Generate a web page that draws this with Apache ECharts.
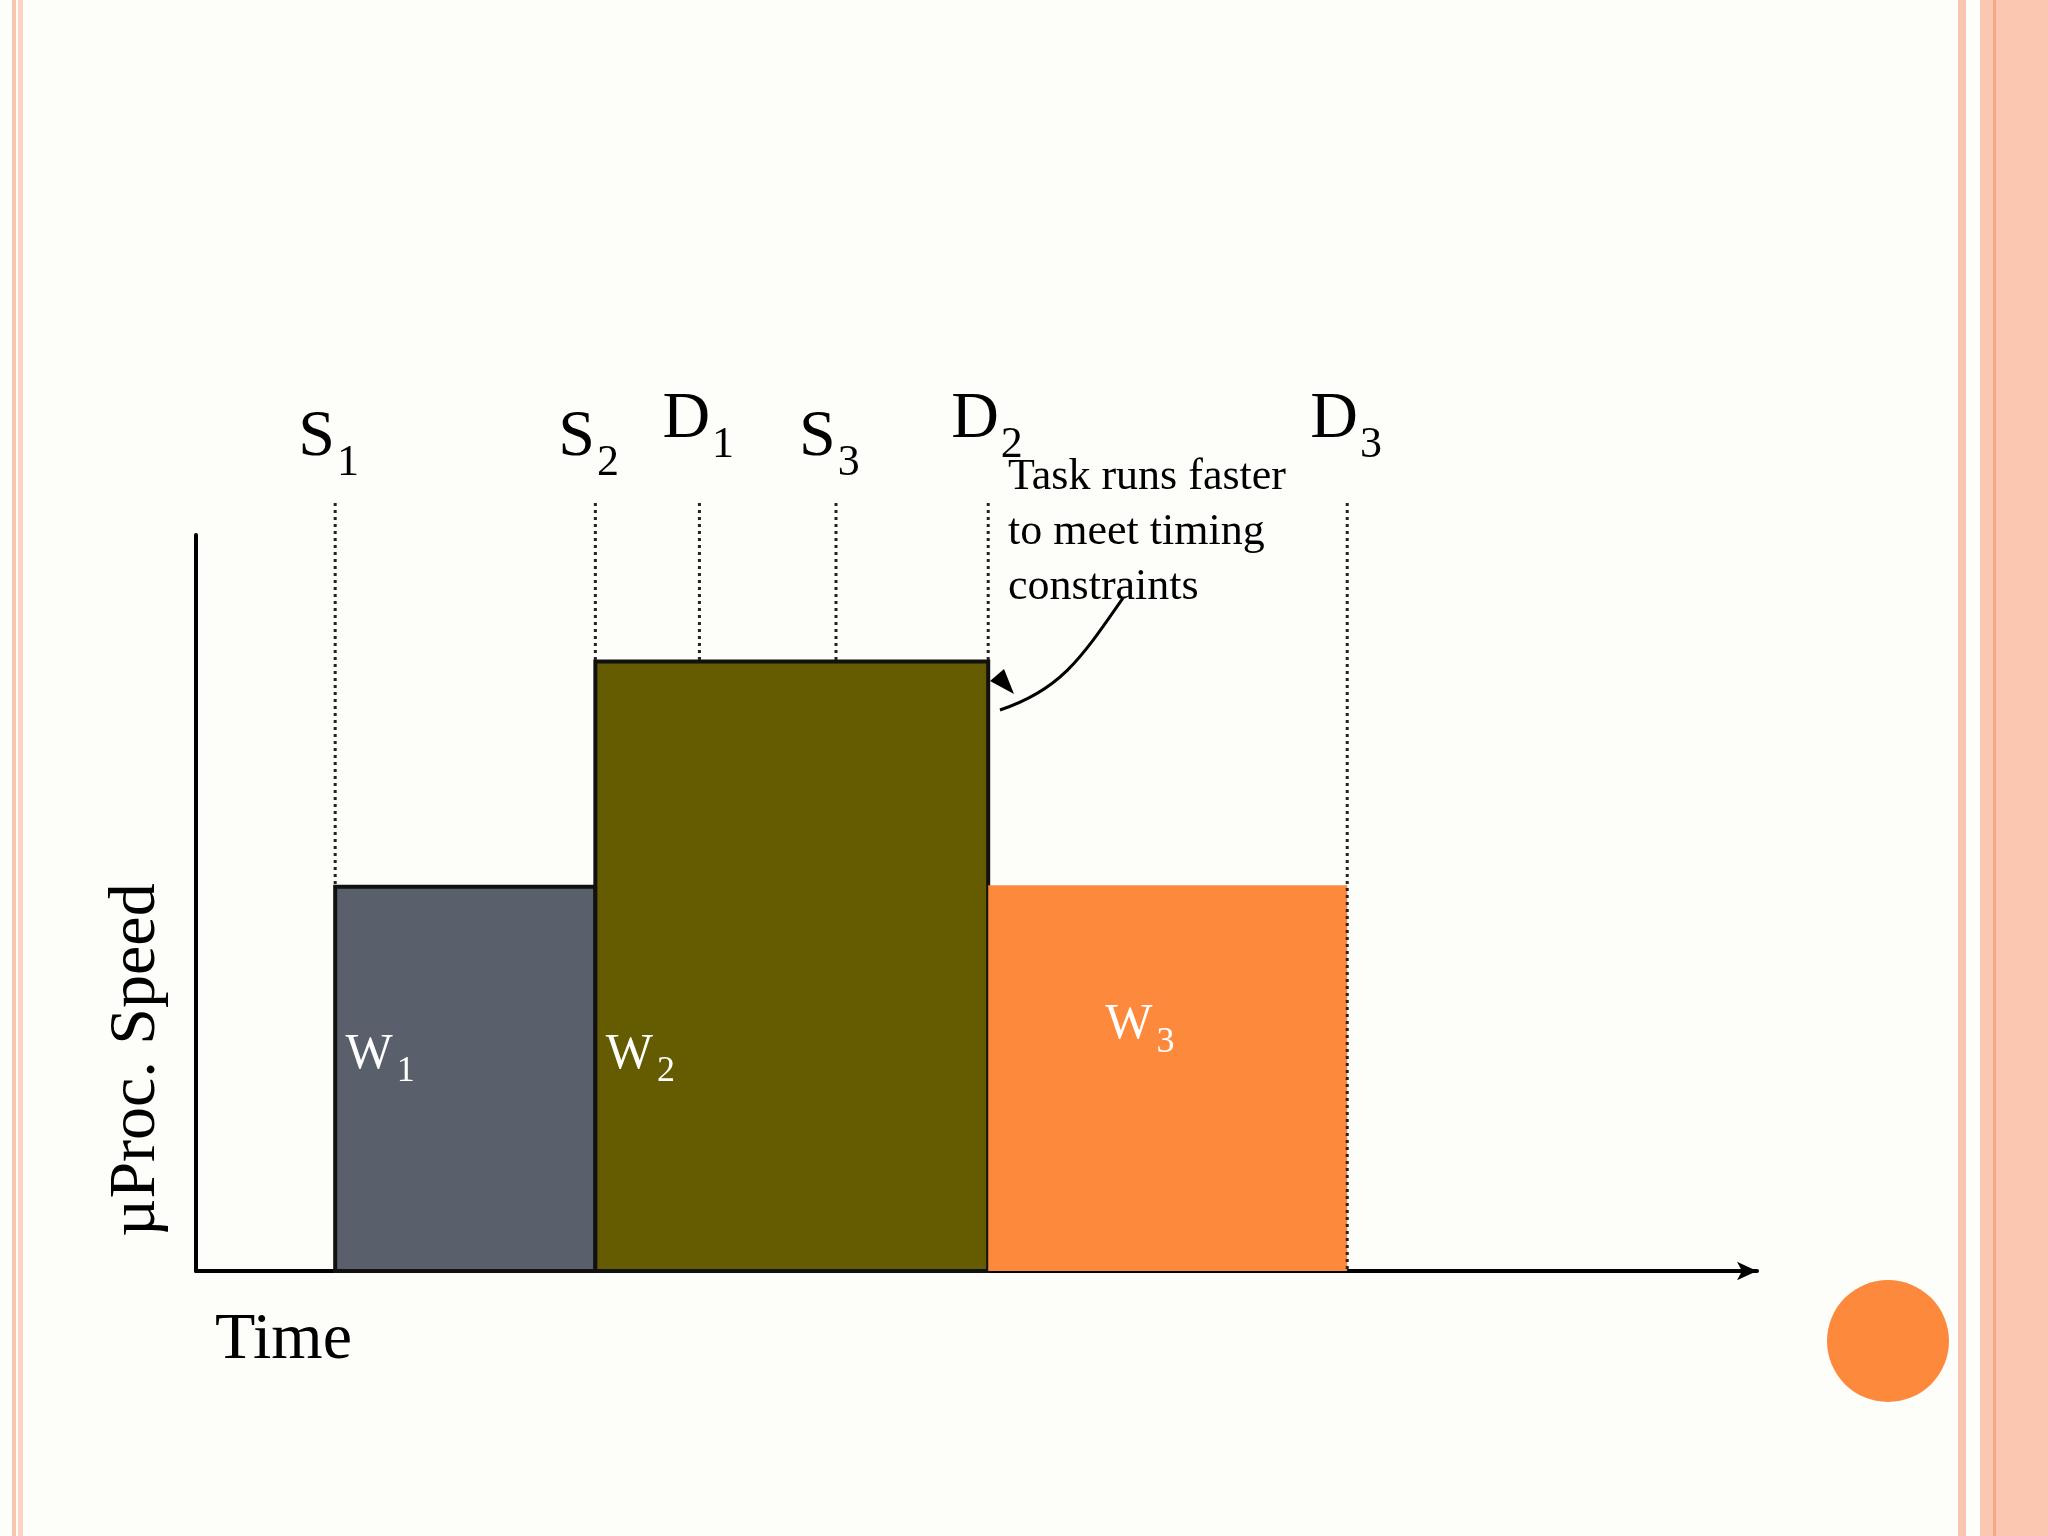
<!DOCTYPE html>
<html><head><meta charset="utf-8">
<script src="https://cdn.jsdelivr.net/npm/echarts@6/dist/echarts.min.js"></script>
<style>html,body{margin:0;padding:0;background:#fdfdf9}#c{width:2048px;height:1536px}</style>
</head><body><div id="c"></div>
<script>
// time positions of events
const eventNames = ['S', 'S', 'D', 'S', 'D', 'D'];
const eventSubs = ['1', '2', '1', '3', '2', '3'];
const eventTimes = [1.07, 3.07, 3.87, 4.92, 6.09, 8.85];
const eventBottoms = [5.22, 8.28, 8.28, 8.28, 8.28, 0];
// task blocks
const taskNames = ['1', '2', '3'];
const taskStart = [1.07, 3.07, 6.09];
const taskEnd = [3.07, 6.09, 8.85];
const taskSpeed = [5.22, 8.28, 5.24];
const taskColors = ['#5a606b', '#655b00', '#fd8a3c'];
const taskBorder = [true, true, false];
const taskLabelY = [2.6, 2.6, 3.0];
const taskLabelX = [0.08, 0.08, 0.9];

const serif = 'Liberation Serif';
const chart = echarts.init(document.getElementById('c'));
const blocks = taskNames.map((n, i) => [taskStart[i], taskEnd[i], taskSpeed[i], i]);
const events = eventTimes.map((t, i) => [t, eventBottoms[i], i]);
chart.setOption({
  backgroundColor: '#fdfdf9',
  animation: false,
  grid: {left: 196, right: 291, top: 535, bottom: 265},
  xAxis: {type: 'value', min: 0, max: 12, axisLine: {lineStyle: {color: '#000', width: 4}, symbol: ['none', 'arrow'], symbolSize: [14, 20]}, axisTick: {show: false}, axisLabel: {show: false}, splitLine: {show: false}},
  yAxis: {type: 'value', min: 0, max: 10, axisLine: {show: true, lineStyle: {color: '#000', width: 4}}, axisTick: {show: false}, axisLabel: {show: false}, splitLine: {show: false}},
  series: [
    {type: 'custom', clip: false, z: 2, data: blocks,
     renderItem: (p, api) => {
       const i = api.value(3);
       const a = api.coord([api.value(0), api.value(2)]);
       const b = api.coord([api.value(1), 0]);
       const lp = api.coord([api.value(0) + taskLabelX[i], taskLabelY[i]]);
       return {type: 'group', children: [
         {type: 'rect', shape: {x: a[0], y: a[1], width: b[0] - a[0], height: b[1] - a[1]},
          style: {fill: taskColors[i], stroke: taskBorder[i] ? '#111' : null, lineWidth: 4}},
         {type: 'text', x: lp[0], y: lp[1], style: {text: '{a|W}{s|' + taskNames[i] + '}', verticalAlign: 'bottom',
           rich: {a: {fontFamily: serif, fontSize: 50, fill: '#fff', verticalAlign: 'bottom'}, s: {fontFamily: serif, fontSize: 36, fill: '#fff', verticalAlign: 'bottom', padding: [0, 0, -10, 4]}}}}
       ]};
     }},
    {type: 'custom', clip: false, z: 3, data: events,
     renderItem: (p, api) => {
       const i = api.value(2);
       const top = api.coord([api.value(0), 10]);
       const bot = api.coord([api.value(0), api.value(1)]);
       return {type: 'group', children: [
         {type: 'line', shape: {x1: top[0], y1: top[1] - 32, x2: bot[0], y2: bot[1]}, style: {stroke: '#222', lineWidth: 3, lineDash: [3, 4]}},
         {type: 'text', x: top[0] - 37, y: top[1] - (eventNames[i] === 'D' ? 82 : 64), style: {text: '{a|' + eventNames[i] + '}{s|' + eventSubs[i] + '}', verticalAlign: 'bottom',
           rich: {a: {fontFamily: serif, fontSize: 66, fill: '#000', verticalAlign: 'bottom'}, s: {fontFamily: serif, fontSize: 44, fill: '#000', verticalAlign: 'bottom', padding: [0, 0, -14, 2]}}}}
       ]};
     }}
  ],
  graphic: [
    {type: 'rect', shape: {x: 12, y: 0, width: 4, height: 1536}, style: {fill: '#f9c4b0'}},
    {type: 'rect', shape: {x: 18, y: 0, width: 5, height: 1536}, style: {fill: '#fbd3c3'}},
    {type: 'rect', shape: {x: 1958, y: 0, width: 8, height: 1536}, style: {fill: '#f9c4b0'}},
    {type: 'rect', shape: {x: 1980, y: 0, width: 68, height: 1536}, style: {fill: '#fbc7b1'}},
    {type: 'rect', shape: {x: 1993, y: 0, width: 3, height: 1536}, style: {fill: '#f7a688'}},
    {type: 'circle', shape: {cx: 1888, cy: 1341, r: 61}, style: {fill: '#fd8a3c'}},
    {type: 'text', x: 1008, y: 450, style: {text: 'Task runs faster\nto meet timing\nconstraints', fontFamily: serif, fontSize: 44, lineHeight: 55, fill: '#000'}},
    {type: 'bezierCurve', shape: {x1: 1123, y1: 598, x2: 1000, y2: 710, cpx1: 1080, cpy1: 660, cpx2: 1060, cpy2: 690}, style: {stroke: '#000', lineWidth: 3, fill: null}},
    {type: 'polygon', shape: {points: [[990, 681], [1014, 694], [1004, 669]]}, style: {fill: '#000'}},
    {type: 'text', x: 137, y: 1060, rotation: Math.PI / 2, style: {text: 'µProc. Speed', fontFamily: serif, fontSize: 66, fill: '#000', align: 'center', verticalAlign: 'middle'}},
    {type: 'text', x: 215, y: 1341, style: {text: 'Time', fontFamily: serif, fontSize: 66, fill: '#000', verticalAlign: 'middle'}}
  ]
});
</script></body></html>
